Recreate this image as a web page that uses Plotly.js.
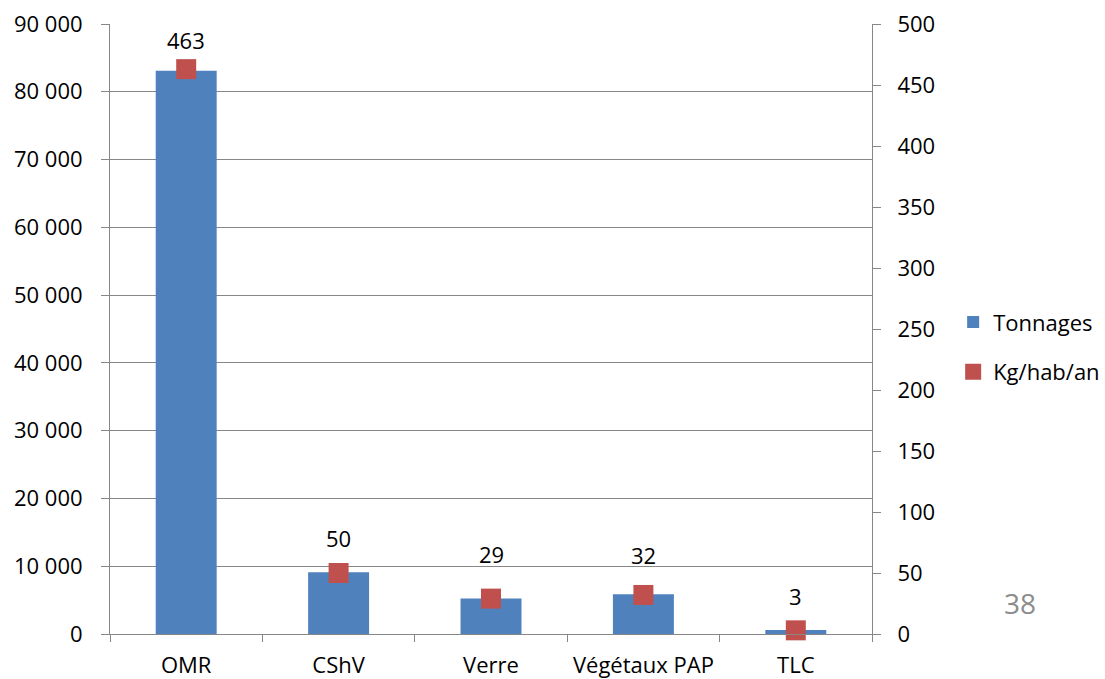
<!DOCTYPE html>
<html>
<head>
<meta charset="utf-8">
<script src="https://cdn.plot.ly/plotly-3.0.1.min.js"></script>
<style>html,body{margin:0;padding:0;background:#fff;}#chart{width:1105px;height:679px;}</style>
</head>
<body>
<div id="chart"></div>
<script>
const categories = ["OMR", "CShV", "Verre", "Végétaux PAP", "TLC"];
const tonnages = [83100, 9100, 5250, 5850, 600];
const kgHabAn = [463, 50, 29, 32, 3];
const leftTicks = [0, 10000, 20000, 30000, 40000, 50000, 60000, 70000, 80000, 90000];
const rightTicks = [0, 50, 100, 150, 200, 250, 300, 350, 400, 450, 500];
const pageNumber = "38";

// label placement (pixels above each marker), as laid out in the original
const labelShift = [29, 35, 45, 40, 34];

const FONT = "Open Sans, Noto Sans, sans-serif";
const GRID = "#878787";

const traces = [
  {
    type: "bar",
    name: "Tonnages",
    x: categories,
    y: tonnages,
    marker: {color: "#4F81BD"},
    yaxis: "y",
    legendgroup: "a"
  },
  {
    type: "scatter",
    mode: "markers",
    name: "Kg/hab/an",
    x: categories,
    y: kgHabAn,
    marker: {symbol: "square", size: 20, color: "#C0504D"},
    yaxis: "y2",
    cliponaxis: false,
    legendgroup: "b"
  }
];

const labelAnnotations = categories.map((c, i) => ({
  text: String(kgHabAn[i]),
  xref: "x", yref: "y2",
  x: c, y: kgHabAn[i],
  yshift: labelShift[i],
  xanchor: "center", yanchor: "middle",
  showarrow: false,
  font: {family: FONT, size: 22, color: "#000"}
}));

const layout = {
  width: 1105,
  height: 679,
  margin: {l: 110, r: 233, t: 24, b: 45, autoexpand: false},
  paper_bgcolor: "#fff",
  plot_bgcolor: "#fff",
  separators: ", ",
  font: {family: FONT, size: 22, color: "#000"},
  bargap: 0.6,
  showlegend: true,
  legend: {
    x: 1.1065, xanchor: "left",
    y: 0.47, yanchor: "middle",
    font: {family: FONT, size: 22, color: "#000"},
    itemwidth: 30,
    tracegroupgap: 18,
    bgcolor: "rgba(0,0,0,0)"
  },
  xaxis: {
    type: "category",
    showgrid: false,
    showline: true,
    linecolor: GRID,
    linewidth: 1,
    ticks: "outside",
    tickson: "boundaries",
    ticklen: 7,
    tickcolor: GRID,
    tickangle: 0,
    tickfont: {family: FONT, size: 22, color: "#000"},
    ticklabelstandoff: 12,
    zeroline: false,
    fixedrange: true
  },
  yaxis: {
    range: [0, 90000],
    tickvals: leftTicks,
    tickformat: ",d",
    showgrid: true,
    gridcolor: GRID,
    gridwidth: 1,
    showline: true,
    linecolor: GRID,
    ticks: "outside",
    ticklen: 8,
    tickcolor: GRID,
    ticklabelstandoff: 14,
    zeroline: false,
    tickfont: {family: FONT, size: 22, color: "#000"}
  },
  yaxis2: {
    range: [0, 500],
    tickvals: rightTicks,
    overlaying: "y",
    side: "right",
    showgrid: false,
    showline: true,
    linecolor: GRID,
    ticks: "outside",
    ticklen: 8,
    tickcolor: GRID,
    ticklabelstandoff: 12,
    zeroline: false,
    tickfont: {family: FONT, size: 22, color: "#000"}
  },
  annotations: labelAnnotations.concat([
    {
      text: pageNumber,
      xref: "paper", yref: "paper",
      x: 1.194, y: 0.051,
      xanchor: "center", yanchor: "middle",
      showarrow: false,
      font: {family: FONT, size: 28, color: "#8C8C8C"}
    }
  ])
};

Plotly.newPlot("chart", traces, layout, {displayModeBar: false, staticPlot: true});
</script>
</body>
</html>
